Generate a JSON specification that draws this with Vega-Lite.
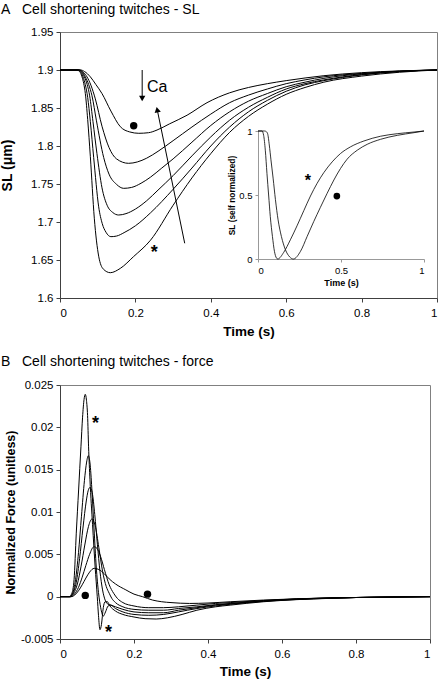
{
"$schema":"https://vega.github.io/schema/vega-lite/v6.json",
"background":"white",
"padding":{"left":0,"top":2,"right":1,"bottom":0},
"spacing":15,
"config":{
 "view":{"stroke":"#808080","strokeWidth":1},
 "font":"Liberation Sans",
 "axis":{"grid":false,"labelOverlap":false,"domainColor":"#404040","tickColor":"#404040","tickSize":4,"labelFont":"Liberation Sans","labelFontSize":11.5,"labelColor":"black","labelPadding":3,"titleFont":"Liberation Sans","titleFontWeight":"bold","titleColor":"black"},
 "title":{"font":"Liberation Sans","fontSize":14,"fontWeight":"normal","color":"black","anchor":"start","frame":"group"}
},
"datasets":{
"sl":[
{"curve":"c1","t":0,"sl":1.9},{"curve":"c1","t":0.055,"sl":1.9},{"curve":"c1","t":0.065,"sl":1.898},{"curve":"c1","t":0.0805,"sl":1.891},{"curve":"c1","t":0.095,"sl":1.881},{"curve":"c1","t":0.1114,"sl":1.869},{"curve":"c1","t":0.135,"sl":1.846},{"curve":"c1","t":0.16,"sl":1.8254},{"curve":"c1","t":0.185,"sl":1.8185},{"curve":"c1","t":0.209,"sl":1.8167},{"curve":"c1","t":0.235,"sl":1.8175},{"curve":"c1","t":0.2573,"sl":1.821},{"curve":"c1","t":0.29,"sl":1.829},{"curve":"c1","t":0.337,"sl":1.8405},{"curve":"c1","t":0.39,"sl":1.857},{"curve":"c1","t":0.45,"sl":1.87},{"curve":"c1","t":0.5,"sl":1.877},{"curve":"c1","t":0.55,"sl":1.882},{"curve":"c1","t":0.6,"sl":1.886},{"curve":"c1","t":0.65,"sl":1.8895},{"curve":"c1","t":0.7,"sl":1.8925},{"curve":"c1","t":0.8,"sl":1.8965},{"curve":"c1","t":0.9,"sl":1.8988},{"curve":"c1","t":1,"sl":1.9},
{"curve":"c2","t":0,"sl":1.9},{"curve":"c2","t":0.052,"sl":1.9},{"curve":"c2","t":0.062,"sl":1.897},{"curve":"c2","t":0.0716,"sl":1.891},{"curve":"c2","t":0.082,"sl":1.88},{"curve":"c2","t":0.0937,"sl":1.862},{"curve":"c2","t":0.1114,"sl":1.826},{"curve":"c2","t":0.13,"sl":1.798},{"curve":"c2","t":0.15,"sl":1.783},{"curve":"c2","t":0.182,"sl":1.7772},{"curve":"c2","t":0.205,"sl":1.779},{"curve":"c2","t":0.23,"sl":1.784},{"curve":"c2","t":0.26,"sl":1.793},{"curve":"c2","t":0.3,"sl":1.807},{"curve":"c2","t":0.35,"sl":1.825},{"curve":"c2","t":0.4,"sl":1.842},{"curve":"c2","t":0.45,"sl":1.857},{"curve":"c2","t":0.5,"sl":1.867},{"curve":"c2","t":0.55,"sl":1.875},{"curve":"c2","t":0.6,"sl":1.882},{"curve":"c2","t":0.65,"sl":1.887},{"curve":"c2","t":0.7,"sl":1.891},{"curve":"c2","t":0.8,"sl":1.8955},{"curve":"c2","t":0.9,"sl":1.8985},{"curve":"c2","t":1,"sl":1.9},
{"curve":"c3","t":0,"sl":1.9},{"curve":"c3","t":0.05,"sl":1.9},{"curve":"c3","t":0.058,"sl":1.898},{"curve":"c3","t":0.0672,"sl":1.891},{"curve":"c3","t":0.076,"sl":1.881},{"curve":"c3","t":0.0849,"sl":1.866},{"curve":"c3","t":0.0964,"sl":1.834},{"curve":"c3","t":0.1158,"sl":1.785},{"curve":"c3","t":0.13,"sl":1.763},{"curve":"c3","t":0.15,"sl":1.7495},{"curve":"c3","t":0.169,"sl":1.7443},{"curve":"c3","t":0.19,"sl":1.7455},{"curve":"c3","t":0.215,"sl":1.751},{"curve":"c3","t":0.24,"sl":1.759},{"curve":"c3","t":0.27,"sl":1.771},{"curve":"c3","t":0.3,"sl":1.783},{"curve":"c3","t":0.35,"sl":1.805},{"curve":"c3","t":0.4,"sl":1.827},{"curve":"c3","t":0.45,"sl":1.845},{"curve":"c3","t":0.5,"sl":1.859},{"curve":"c3","t":0.55,"sl":1.869},{"curve":"c3","t":0.6,"sl":1.878},{"curve":"c3","t":0.65,"sl":1.884},{"curve":"c3","t":0.7,"sl":1.889},{"curve":"c3","t":0.8,"sl":1.895},{"curve":"c3","t":0.9,"sl":1.8983},{"curve":"c3","t":1,"sl":1.9},
{"curve":"c4","t":0,"sl":1.9},{"curve":"c4","t":0.048,"sl":1.9},{"curve":"c4","t":0.056,"sl":1.898},{"curve":"c4","t":0.0645,"sl":1.891},{"curve":"c4","t":0.072,"sl":1.881},{"curve":"c4","t":0.0787,"sl":1.866},{"curve":"c4","t":0.0875,"sl":1.832},{"curve":"c4","t":0.098,"sl":1.79},{"curve":"c4","t":0.1114,"sl":1.745},{"curve":"c4","t":0.125,"sl":1.722},{"curve":"c4","t":0.14,"sl":1.7125},{"curve":"c4","t":0.1556,"sl":1.7092},{"curve":"c4","t":0.175,"sl":1.711},{"curve":"c4","t":0.2,"sl":1.717},{"curve":"c4","t":0.23,"sl":1.728},{"curve":"c4","t":0.26,"sl":1.742},{"curve":"c4","t":0.3,"sl":1.761},{"curve":"c4","t":0.35,"sl":1.787},{"curve":"c4","t":0.4,"sl":1.812},{"curve":"c4","t":0.45,"sl":1.834},{"curve":"c4","t":0.5,"sl":1.851},{"curve":"c4","t":0.55,"sl":1.864},{"curve":"c4","t":0.6,"sl":1.875},{"curve":"c4","t":0.65,"sl":1.882},{"curve":"c4","t":0.7,"sl":1.887},{"curve":"c4","t":0.8,"sl":1.894},{"curve":"c4","t":0.9,"sl":1.898},{"curve":"c4","t":1,"sl":1.9},
{"curve":"c5","t":0,"sl":1.9},{"curve":"c5","t":0.046,"sl":1.9},{"curve":"c5","t":0.054,"sl":1.898},{"curve":"c5","t":0.061,"sl":1.891},{"curve":"c5","t":0.067,"sl":1.881},{"curve":"c5","t":0.0734,"sl":1.864},{"curve":"c5","t":0.0805,"sl":1.832},{"curve":"c5","t":0.0893,"sl":1.785},{"curve":"c5","t":0.1026,"sl":1.72},{"curve":"c5","t":0.112,"sl":1.698},{"curve":"c5","t":0.122,"sl":1.6865},{"curve":"c5","t":0.135,"sl":1.6807},{"curve":"c5","t":0.15,"sl":1.6815},{"curve":"c5","t":0.17,"sl":1.686},{"curve":"c5","t":0.2,"sl":1.695},{"curve":"c5","t":0.24,"sl":1.712},{"curve":"c5","t":0.3,"sl":1.743},{"curve":"c5","t":0.35,"sl":1.771},{"curve":"c5","t":0.4,"sl":1.8},{"curve":"c5","t":0.45,"sl":1.825},{"curve":"c5","t":0.5,"sl":1.845},{"curve":"c5","t":0.55,"sl":1.86},{"curve":"c5","t":0.6,"sl":1.872},{"curve":"c5","t":0.65,"sl":1.8805},{"curve":"c5","t":0.7,"sl":1.886},{"curve":"c5","t":0.8,"sl":1.8935},{"curve":"c5","t":0.9,"sl":1.898},{"curve":"c5","t":1,"sl":1.9},
{"curve":"c6","t":0,"sl":1.9},{"curve":"c6","t":0.044,"sl":1.9},{"curve":"c6","t":0.052,"sl":1.898},{"curve":"c6","t":0.0584,"sl":1.891},{"curve":"c6","t":0.063,"sl":1.882},{"curve":"c6","t":0.0672,"sl":1.869},{"curve":"c6","t":0.0734,"sl":1.835},{"curve":"c6","t":0.0805,"sl":1.786},{"curve":"c6","t":0.091,"sl":1.705},{"curve":"c6","t":0.1026,"sl":1.655},{"curve":"c6","t":0.115,"sl":1.638},{"curve":"c6","t":0.1335,"sl":1.6333},{"curve":"c6","t":0.16,"sl":1.639},{"curve":"c6","t":0.195,"sl":1.6544},{"curve":"c6","t":0.24,"sl":1.676},{"curve":"c6","t":0.3,"sl":1.722},{"curve":"c6","t":0.35,"sl":1.758},{"curve":"c6","t":0.4,"sl":1.79},{"curve":"c6","t":0.45,"sl":1.818},{"curve":"c6","t":0.5,"sl":1.839},{"curve":"c6","t":0.55,"sl":1.855},{"curve":"c6","t":0.6,"sl":1.868},{"curve":"c6","t":0.65,"sl":1.877},{"curve":"c6","t":0.7,"sl":1.884},{"curve":"c6","t":0.8,"sl":1.892},{"curve":"c6","t":0.9,"sl":1.897},{"curve":"c6","t":1,"sl":1.9}
],
"norm":[
{"curve":"a","t":0,"v":1},{"curve":"a","t":0.024,"v":1},{"curve":"a","t":0.034,"v":0.966},{"curve":"a","t":0.044,"v":0.85},{"curve":"a","t":0.054,"v":0.668},{"curve":"a","t":0.064,"v":0.5},{"curve":"a","t":0.074,"v":0.332},{"curve":"a","t":0.087,"v":0.176},{"curve":"a","t":0.099,"v":0.06},{"curve":"a","t":0.111,"v":0.008},{"curve":"a","t":0.119,"v":0},{"curve":"a","t":0.155,"v":0.052},{"curve":"a","t":0.195,"v":0.15},{"curve":"a","t":0.235,"v":0.259},{"curve":"a","t":0.276,"v":0.378},{"curve":"a","t":0.316,"v":0.492},{"curve":"a","t":0.356,"v":0.591},{"curve":"a","t":0.396,"v":0.674},{"curve":"a","t":0.447,"v":0.759},{"curve":"a","t":0.497,"v":0.824},{"curve":"a","t":0.557,"v":0.876},{"curve":"a","t":0.638,"v":0.922},{"curve":"a","t":0.738,"v":0.959},{"curve":"a","t":0.839,"v":0.979},{"curve":"a","t":0.94,"v":0.992},{"curve":"a","t":1,"v":1},
{"curve":"b","t":0,"v":1},{"curve":"b","t":0.04,"v":1},{"curve":"b","t":0.05,"v":0.995},{"curve":"b","t":0.058,"v":0.979},{"curve":"b","t":0.068,"v":0.891},{"curve":"b","t":0.078,"v":0.775},{"curve":"b","t":0.091,"v":0.632},{"curve":"b","t":0.105,"v":0.464},{"curve":"b","t":0.121,"v":0.306},{"curve":"b","t":0.141,"v":0.176},{"curve":"b","t":0.165,"v":0.073},{"curve":"b","t":0.191,"v":0.016},{"curve":"b","t":0.213,"v":0},{"curve":"b","t":0.256,"v":0.06},{"curve":"b","t":0.296,"v":0.176},{"curve":"b","t":0.336,"v":0.293},{"curve":"b","t":0.376,"v":0.404},{"curve":"b","t":0.4165,"v":0.513},{"curve":"b","t":0.457,"v":0.617},{"curve":"b","t":0.497,"v":0.707},{"curve":"b","t":0.537,"v":0.78},{"curve":"b","t":0.598,"v":0.85},{"curve":"b","t":0.658,"v":0.896},{"curve":"b","t":0.738,"v":0.935},{"curve":"b","t":0.839,"v":0.966},{"curve":"b","t":0.94,"v":0.987},{"curve":"b","t":1,"v":1}
],
"force":[
{"curve":"f1","t":0,"f":0},{"curve":"f1","t":0.025,"f":0},{"curve":"f1","t":0.032,"f":0.0004},{"curve":"f1","t":0.038,"f":0.002},{"curve":"f1","t":0.044,"f":0.0075},{"curve":"f1","t":0.0503,"f":0.0126},{"curve":"f1","t":0.0566,"f":0.0177},{"curve":"f1","t":0.061,"f":0.0212},{"curve":"f1","t":0.065,"f":0.0233},{"curve":"f1","t":0.0683,"f":0.0239},{"curve":"f1","t":0.0715,"f":0.0232},{"curve":"f1","t":0.0745,"f":0.0214},{"curve":"f1","t":0.0772,"f":0.0177},{"curve":"f1","t":0.081,"f":0.0138},{"curve":"f1","t":0.088,"f":0.0085},{"curve":"f1","t":0.095,"f":0.0035},{"curve":"f1","t":0.1007,"f":0},{"curve":"f1","t":0.104,"f":-0.0022},{"curve":"f1","t":0.108,"f":-0.0039},{"curve":"f1","t":0.112,"f":-0.0033},{"curve":"f1","t":0.117,"f":-0.0013},{"curve":"f1","t":0.122,"f":-0.0006},{"curve":"f1","t":0.128,"f":-0.0006},{"curve":"f1","t":0.135,"f":-0.0011},{"curve":"f1","t":0.15,"f":-0.0017},{"curve":"f1","t":0.17,"f":-0.0021},{"curve":"f1","t":0.2,"f":-0.0024},{"curve":"f1","t":0.23,"f":-0.0026},{"curve":"f1","t":0.26,"f":-0.00264},{"curve":"f1","t":0.29,"f":-0.0025},{"curve":"f1","t":0.33,"f":-0.0021},{"curve":"f1","t":0.37,"f":-0.0016},{"curve":"f1","t":0.42,"f":-0.0012},{"curve":"f1","t":0.46,"f":-0.001},{"curve":"f1","t":0.55,"f":-0.0006},{"curve":"f1","t":0.64,"f":-0.00035},{"curve":"f1","t":0.73,"f":-0.0002},{"curve":"f1","t":0.8,"f":-0.0001},{"curve":"f1","t":0.9,"f":-0.00004},{"curve":"f1","t":1,"f":0},
{"curve":"f2","t":0,"f":0},{"curve":"f2","t":0.026,"f":0},{"curve":"f2","t":0.034,"f":0.0004},{"curve":"f2","t":0.042,"f":0.002},{"curve":"f2","t":0.05,"f":0.0052},{"curve":"f2","t":0.058,"f":0.0095},{"curve":"f2","t":0.066,"f":0.0137},{"curve":"f2","t":0.072,"f":0.0159},{"curve":"f2","t":0.0764,"f":0.01665},{"curve":"f2","t":0.081,"f":0.0158},{"curve":"f2","t":0.086,"f":0.0128},{"curve":"f2","t":0.092,"f":0.008},{"curve":"f2","t":0.098,"f":0.0035},{"curve":"f2","t":0.104,"f":0.0005},{"curve":"f2","t":0.11,"f":-0.0013},{"curve":"f2","t":0.117,"f":-0.0023},{"curve":"f2","t":0.123,"f":-0.0018},{"curve":"f2","t":0.13,"f":-0.0011},{"curve":"f2","t":0.137,"f":-0.001},{"curve":"f2","t":0.15,"f":-0.0014},{"curve":"f2","t":0.17,"f":-0.0018},{"curve":"f2","t":0.2,"f":-0.0021},{"curve":"f2","t":0.24,"f":-0.0022},{"curve":"f2","t":0.28,"f":-0.0021},{"curve":"f2","t":0.32,"f":-0.0018},{"curve":"f2","t":0.37,"f":-0.0014},{"curve":"f2","t":0.42,"f":-0.0011},{"curve":"f2","t":0.46,"f":-0.0009},{"curve":"f2","t":0.55,"f":-0.00055},{"curve":"f2","t":0.64,"f":-0.00033},{"curve":"f2","t":0.73,"f":-0.00018},{"curve":"f2","t":0.8,"f":-0.0001},{"curve":"f2","t":0.9,"f":-0.00004},{"curve":"f2","t":1,"f":0},
{"curve":"f3","t":0,"f":0},{"curve":"f3","t":0.027,"f":0},{"curve":"f3","t":0.035,"f":0.0004},{"curve":"f3","t":0.044,"f":0.0017},{"curve":"f3","t":0.053,"f":0.0045},{"curve":"f3","t":0.062,"f":0.0081},{"curve":"f3","t":0.071,"f":0.0113},{"curve":"f3","t":0.076,"f":0.0125},{"curve":"f3","t":0.081,"f":0.0129},{"curve":"f3","t":0.087,"f":0.0123},{"curve":"f3","t":0.094,"f":0.0097},{"curve":"f3","t":0.101,"f":0.0062},{"curve":"f3","t":0.108,"f":0.003},{"curve":"f3","t":0.115,"f":0.0008},{"curve":"f3","t":0.122,"f":-0.0004},{"curve":"f3","t":0.13,"f":-0.0009},{"curve":"f3","t":0.138,"f":-0.001},{"curve":"f3","t":0.15,"f":-0.0012},{"curve":"f3","t":0.17,"f":-0.0015},{"curve":"f3","t":0.2,"f":-0.0018},{"curve":"f3","t":0.24,"f":-0.0019},{"curve":"f3","t":0.28,"f":-0.0019},{"curve":"f3","t":0.32,"f":-0.0016},{"curve":"f3","t":0.37,"f":-0.0013},{"curve":"f3","t":0.42,"f":-0.001},{"curve":"f3","t":0.46,"f":-0.00085},{"curve":"f3","t":0.55,"f":-0.00052},{"curve":"f3","t":0.64,"f":-0.0003},{"curve":"f3","t":0.73,"f":-0.00017},{"curve":"f3","t":0.8,"f":-0.0001},{"curve":"f3","t":0.9,"f":-0.00004},{"curve":"f3","t":1,"f":0},
{"curve":"f4","t":0,"f":0},{"curve":"f4","t":0.028,"f":0},{"curve":"f4","t":0.037,"f":0.0004},{"curve":"f4","t":0.047,"f":0.0015},{"curve":"f4","t":0.057,"f":0.0036},{"curve":"f4","t":0.067,"f":0.0061},{"curve":"f4","t":0.077,"f":0.0083},{"curve":"f4","t":0.0863,"f":0.00917},{"curve":"f4","t":0.095,"f":0.0084},{"curve":"f4","t":0.105,"f":0.0058},{"curve":"f4","t":0.115,"f":0.003},{"curve":"f4","t":0.125,"f":0.0012},{"curve":"f4","t":0.133,"f":0.0004},{"curve":"f4","t":0.14,"f":-0.0002},{"curve":"f4","t":0.15,"f":-0.0007},{"curve":"f4","t":0.17,"f":-0.0012},{"curve":"f4","t":0.2,"f":-0.0015},{"curve":"f4","t":0.24,"f":-0.0016},{"curve":"f4","t":0.28,"f":-0.0016},{"curve":"f4","t":0.32,"f":-0.0014},{"curve":"f4","t":0.37,"f":-0.0012},{"curve":"f4","t":0.42,"f":-0.00095},{"curve":"f4","t":0.46,"f":-0.0008},{"curve":"f4","t":0.55,"f":-0.0005},{"curve":"f4","t":0.64,"f":-0.00028},{"curve":"f4","t":0.73,"f":-0.00016},{"curve":"f4","t":0.8,"f":-0.0001},{"curve":"f4","t":0.9,"f":-0.00004},{"curve":"f4","t":1,"f":0},
{"curve":"f5","t":0,"f":0},{"curve":"f5","t":0.029,"f":0},{"curve":"f5","t":0.039,"f":0.0003},{"curve":"f5","t":0.05,"f":0.0011},{"curve":"f5","t":0.06,"f":0.0023},{"curve":"f5","t":0.07,"f":0.0037},{"curve":"f5","t":0.08,"f":0.005},{"curve":"f5","t":0.0917,"f":0.0059},{"curve":"f5","t":0.1,"f":0.0057},{"curve":"f5","t":0.11,"f":0.0047},{"curve":"f5","t":0.12,"f":0.0032},{"curve":"f5","t":0.133,"f":0.0014},{"curve":"f5","t":0.145,"f":0.0004},{"curve":"f5","t":0.155,"f":-0.0002},{"curve":"f5","t":0.17,"f":-0.0007},{"curve":"f5","t":0.2,"f":-0.0011},{"curve":"f5","t":0.24,"f":-0.0013},{"curve":"f5","t":0.28,"f":-0.0013},{"curve":"f5","t":0.32,"f":-0.0012},{"curve":"f5","t":0.37,"f":-0.001},{"curve":"f5","t":0.42,"f":-0.0008},{"curve":"f5","t":0.46,"f":-0.0007},{"curve":"f5","t":0.55,"f":-0.00045},{"curve":"f5","t":0.64,"f":-0.00026},{"curve":"f5","t":0.73,"f":-0.00015},{"curve":"f5","t":0.8,"f":-0.0001},{"curve":"f5","t":0.9,"f":-0.00004},{"curve":"f5","t":1,"f":0},
{"curve":"f6","t":0,"f":0},{"curve":"f6","t":0.03,"f":0},{"curve":"f6","t":0.04,"f":0.0002},{"curve":"f6","t":0.05,"f":0.0007},{"curve":"f6","t":0.06,"f":0.0014},{"curve":"f6","t":0.07,"f":0.0022},{"curve":"f6","t":0.08,"f":0.0029},{"curve":"f6","t":0.0925,"f":0.00335},{"curve":"f6","t":0.105,"f":0.0032},{"curve":"f6","t":0.12,"f":0.0027},{"curve":"f6","t":0.133,"f":0.0021},{"curve":"f6","t":0.15,"f":0.0015},{"curve":"f6","t":0.178,"f":0.0008},{"curve":"f6","t":0.2,"f":0.0003},{"curve":"f6","t":0.223,"f":0},{"curve":"f6","t":0.25,"f":-0.0004},{"curve":"f6","t":0.275,"f":-0.0006},{"curve":"f6","t":0.3,"f":-0.0007},{"curve":"f6","t":0.35,"f":-0.0008},{"curve":"f6","t":0.4,"f":-0.00075},{"curve":"f6","t":0.46,"f":-0.0006},{"curve":"f6","t":0.55,"f":-0.0004},{"curve":"f6","t":0.64,"f":-0.00025},{"curve":"f6","t":0.73,"f":-0.00014},{"curve":"f6","t":0.8,"f":-0.0001},{"curve":"f6","t":0.9,"f":-0.00004},{"curve":"f6","t":1,"f":0}
]
},
"vconcat":[
{
 "width":377,"height":266,
 "title":{"text":"A\u00a0\u00a0\u00a0Cell shortening twitches - SL","dx":-59,"offset":9},
 "layer":[
  {"layer":[
   {"data":{"name":"sl"},"mark":{"type":"line","color":"black","strokeWidth":1,"interpolate":"monotone"},
    "encoding":{
     "x":{"field":"t","type":"quantitative","scale":{"domain":[0,1],"nice":false,"zero":false},"axis":{"title":"Time (s)","values":[0,0.2,0.4,0.6,0.8,1],"tickCount":12,"format":"~g","titleFontSize":13.5,"titlePadding":6,"labelPadding":5}},
     "y":{"field":"sl","type":"quantitative","scale":{"domain":[1.6,1.95],"nice":false,"zero":false},"axis":{"title":"SL (μm)","values":[1.6,1.65,1.7,1.75,1.8,1.85,1.9,1.95],"tickCount":12,"format":"~g","titleFontSize":14,"titlePadding":16}},
     "detail":{"field":"curve"}}},
   {"data":{"values":[{"t":0.1955,"sl":1.8267}]},"mark":{"type":"point","shape":"circle","filled":true,"color":"black","size":55,"opacity":1},
    "encoding":{"x":{"field":"t","type":"quantitative"},"y":{"field":"sl","type":"quantitative"}}},
   {"data":{"values":[{"t":0.25,"sl":1.666}]},"mark":{"type":"text","text":"*","fontSize":18,"fontWeight":"bold","baseline":"alphabetic","dy":10,"color":"black"},
    "encoding":{"x":{"field":"t","type":"quantitative"},"y":{"field":"sl","type":"quantitative"}}},
   {"data":{"values":[{"t":0.2308,"sl":1.8714,"label":"Ca"}]},"mark":{"type":"text","fontSize":16,"align":"left","baseline":"alphabetic","color":"black"},
    "encoding":{"x":{"field":"t","type":"quantitative"},"y":{"field":"sl","type":"quantitative"},"text":{"field":"label"}}},
   {"data":{"values":[{"t":0.218,"sl":1.9,"t2":0.218,"sl2":1.862},{"t":0.3308,"sl":1.672,"t2":0.2578,"sl2":1.848}]},"mark":{"type":"rule","color":"black","strokeWidth":1},
    "encoding":{"x":{"field":"t","type":"quantitative"},"y":{"field":"sl","type":"quantitative"},"x2":{"field":"t2"},"y2":{"field":"sl2"}}},
   {"data":{"values":[{"t":0.218,"sl":1.8625}]},"mark":{"type":"point","shape":"triangle-down","filled":true,"color":"black","size":40,"opacity":1},
    "encoding":{"x":{"field":"t","type":"quantitative"},"y":{"field":"sl","type":"quantitative"}}},
   {"data":{"values":[{"t":0.2578,"sl":1.8479}]},"mark":{"type":"point","shape":"triangle-up","filled":true,"color":"black","size":40,"angle":-11.7,"opacity":1},
    "encoding":{"x":{"field":"t","type":"quantitative"},"y":{"field":"sl","type":"quantitative"}}}
  ]},
  {"layer":[
   {"data":{"name":"norm"},"mark":{"type":"line","color":"black","strokeWidth":0.8,"interpolate":"monotone"},
    "encoding":{
     "x":{"field":"t","type":"quantitative","scale":{"domain":[0,1],"range":[198,364],"nice":false,"zero":false},"axis":{"orient":"bottom","offset":-39,"title":"Time (s)","values":[0,0.5,1],"format":"~g","labelFontSize":9.5,"titleFontSize":9,"domainColor":"#999999","tickColor":"#999999","tickSize":3,"labelPadding":3,"titlePadding":4}},
     "y":{"field":"v","type":"quantitative","scale":{"domain":[0,1],"range":[227,99],"nice":false,"zero":false},"axis":{"orient":"left","offset":-198,"title":"SL (self normalized)","values":[0,0.5,1],"format":"~g","labelFontSize":9.5,"titleFontSize":8.4,"domainColor":"#999999","tickColor":"#999999","tickSize":3,"labelPadding":3,"titlePadding":2}},
     "detail":{"field":"curve"}}},
   {"data":{"values":[{"t":0.475,"v":0.492}]},"mark":{"type":"point","shape":"circle","filled":true,"color":"black","size":45,"opacity":1},
    "encoding":{"x":{"field":"t","type":"quantitative"},"y":{"field":"v","type":"quantitative"}}},
   {"data":{"values":[{"t":0.3,"v":0.64}]},"mark":{"type":"text","text":"*","fontSize":16,"fontWeight":"bold","baseline":"alphabetic","dy":9,"color":"black"},
    "encoding":{"x":{"field":"t","type":"quantitative"},"y":{"field":"v","type":"quantitative"}}}
  ]}
 ],
 "resolve":{"scale":{"x":"independent","y":"independent"},"axis":{"x":"independent","y":"independent"}}
},
{
 "width":370,"height":254,
 "title":{"text":"B\u00a0\u00a0\u00a0Cell shortening twitches - force","dx":-59,"offset":10},
 "layer":[
  {"data":{"name":"force"},"mark":{"type":"line","color":"black","strokeWidth":1,"interpolate":"monotone"},
   "encoding":{
    "x":{"field":"t","type":"quantitative","scale":{"domain":[0,1],"nice":false,"zero":false},"axis":{"title":"Time (s)","values":[0,0.2,0.4,0.6,0.8,1],"tickCount":12,"format":"~g","titleFontSize":13.5,"titlePadding":5,"labelPadding":5}},
    "y":{"field":"f","type":"quantitative","scale":{"domain":[-0.005,0.025],"nice":false,"zero":false},"axis":{"title":"Normalized Force (unitless)","values":[-0.005,0,0.005,0.01,0.015,0.02,0.025],"tickCount":12,"labelExpr":"replace(format(datum.value,'~g'),'\u2212','-')","titleFontSize":12.5,"titlePadding":3}},
    "detail":{"field":"curve"}}},
  {"data":{"values":[{"t":0.0683,"f":0.00015},{"t":0.2365,"f":0.0003}]},"mark":{"type":"point","shape":"circle","filled":true,"color":"black","size":55,"opacity":1},
   "encoding":{"x":{"field":"t","type":"quantitative"},"y":{"field":"f","type":"quantitative"}}},
  {"data":{"values":[{"t":0.096,"f":0.021},{"t":0.131,"f":-0.0037}]},"mark":{"type":"text","text":"*","fontSize":18,"fontWeight":"bold","baseline":"alphabetic","dy":10,"color":"black"},
   "encoding":{"x":{"field":"t","type":"quantitative"},"y":{"field":"f","type":"quantitative"}}}
 ]
}
]
}
